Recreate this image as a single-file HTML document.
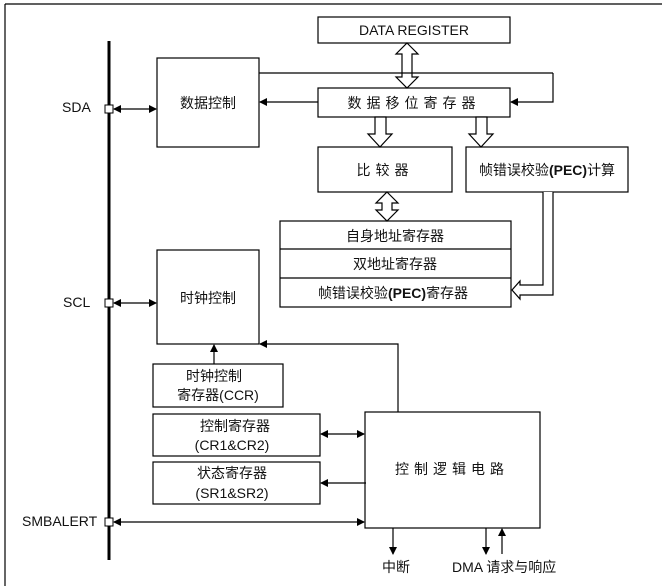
<!DOCTYPE html>
<html><head><meta charset="utf-8"><style>
html,body{margin:0;padding:0;background:#fff;}
svg{display:block;}
text{font-family:"Liberation Sans","Noto Sans CJK SC",sans-serif;font-size:14px;fill:#111;}
</style></head><body>
<svg width="662" height="586" viewBox="0 0 662 586" xmlns="http://www.w3.org/2000/svg">
<defs>
<marker id="a" markerWidth="8" markerHeight="8" refX="7" refY="4" orient="auto" markerUnits="userSpaceOnUse"><path d="M0,0 L8,4 L0,8 Z" fill="#000"/></marker>
<marker id="s" markerWidth="8" markerHeight="8" refX="1" refY="4" orient="auto" markerUnits="userSpaceOnUse"><path d="M8,0 L0,4 L8,8 Z" fill="#000"/></marker>
</defs>
<g fill="none" stroke="#000" stroke-width="1.2">
<line x1="5" y1="4" x2="662" y2="4"/>
<line x1="5" y1="4" x2="5" y2="586"/>
<line x1="109" y1="41" x2="109" y2="560" stroke-width="3"/>
<rect x="157" y="58" width="102" height="89"/>
<rect x="318" y="17" width="192" height="26"/>
<rect x="318" y="88" width="192" height="29"/>
<rect x="318" y="147" width="134" height="45"/>
<rect x="466" y="147" width="162" height="45"/>
<rect x="280" y="221" width="231" height="86"/>
<line x1="280" y1="249" x2="511" y2="249"/>
<line x1="280" y1="278" x2="511" y2="278"/>
<rect x="157" y="250" width="102" height="94"/>
<rect x="153" y="364" width="130" height="43"/>
<rect x="153" y="414" width="167" height="42"/>
<rect x="153" y="462" width="167" height="42"/>
<rect x="365" y="412" width="175" height="116"/>
<path d="M407,43 L418,54 L412,54 L412,77 L418,77 L407,88 L396,77 L402,77 L402,54 L396,54 Z" fill="#fff"/>
<path d="M375,117 L386,117 L386,134 L392,134 L380,147 L368,134 L375,134 Z" fill="#fff"/>
<path d="M476,117 L487,117 L487,134 L493,134 L481,147 L469,134 L476,134 Z" fill="#fff"/>
<path d="M387,192 L398,203 L392,203 L392,210 L398,210 L387,221 L376,210 L382,210 L382,203 L376,203 Z" fill="#fff"/>
<path d="M543,192 L543,285 L520,285 L520,281 L512,290 L520,299 L520,295 L553,295 L553,192" fill="#fff"/>
<line x1="259" y1="73" x2="553" y2="73"/>
<polyline points="553,73 553,102 511,102" marker-end="url(#a)"/>
<line x1="318" y1="102" x2="260" y2="102" marker-end="url(#a)"/>
<line x1="114" y1="109" x2="156" y2="109" marker-start="url(#s)" marker-end="url(#a)"/>
<line x1="114" y1="303" x2="156" y2="303" marker-start="url(#s)" marker-end="url(#a)"/>
<polyline points="398,412 398,344 260,344" marker-end="url(#a)"/>
<line x1="214" y1="364" x2="214" y2="345" marker-end="url(#a)"/>
<line x1="321" y1="434" x2="364" y2="434" marker-start="url(#s)" marker-end="url(#a)"/>
<line x1="366" y1="483" x2="321" y2="483" marker-end="url(#a)"/>
<line x1="114" y1="522" x2="364" y2="522" marker-start="url(#s)" marker-end="url(#a)"/>
<line x1="393" y1="528" x2="393" y2="554" marker-end="url(#a)"/>
<line x1="486" y1="528" x2="486" y2="554" marker-end="url(#a)"/>
<line x1="502" y1="554" x2="502" y2="529" marker-end="url(#a)"/>
<rect x="105" y="105" width="8" height="8" fill="#fff" stroke-width="1"/>
<rect x="105" y="299" width="8" height="8" fill="#fff" stroke-width="1"/>
<rect x="105" y="518" width="8" height="8" fill="#fff" stroke-width="1"/>
</g>
<text x="62" y="112">SDA</text>
<text x="63" y="307">SCL</text>
<text x="22" y="526">SMBALERT</text>
<text x="208" y="108" text-anchor="middle">数据控制</text>
<text x="208" y="303" text-anchor="middle">时钟控制</text>
<text x="414" y="35" text-anchor="middle">DATA REGISTER</text>
<text x="414" y="108" text-anchor="middle" letter-spacing="5">数据移位寄存器</text>
<text x="385" y="175" text-anchor="middle" letter-spacing="5">比较器</text>
<text x="547" y="175" text-anchor="middle">帧错误校验<tspan font-weight="bold">(PEC)</tspan>计算</text>
<text x="395" y="241" text-anchor="middle">自身地址寄存器</text>
<text x="395" y="269" text-anchor="middle">双地址寄存器</text>
<text x="393" y="298" text-anchor="middle">帧错误校验<tspan font-weight="bold">(PEC)</tspan>寄存器</text>
<text x="214" y="381" text-anchor="middle">时钟控制</text>
<text x="218" y="400" text-anchor="middle">寄存器(CCR)</text>
<text x="235" y="431" text-anchor="middle">控制寄存器</text>
<text x="232" y="450" text-anchor="middle">(CR1&amp;CR2)</text>
<text x="232" y="478" text-anchor="middle">状态寄存器</text>
<text x="232" y="498" text-anchor="middle">(SR1&amp;SR2)</text>
<text x="452" y="474" text-anchor="middle" letter-spacing="5">控制逻辑电路</text>
<text x="382" y="572">中断</text>
<text x="452" y="572">DMA 请求与响应</text>
</svg>
</body></html>
